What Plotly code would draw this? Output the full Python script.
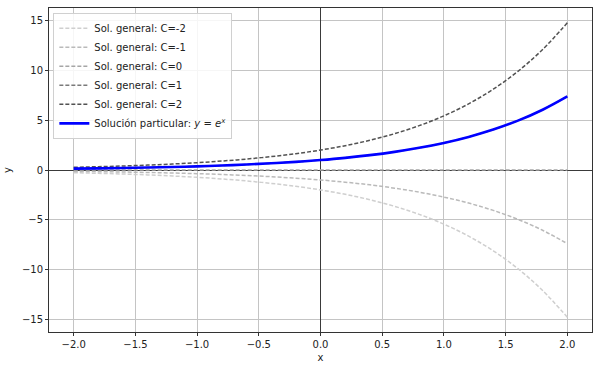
import plotly.graph_objects as go

x_vals = [-2.0, -1.8, -1.6, -1.4, -1.2, -1.0, -0.8, -0.6, -0.4, -0.2, 0.0,
          0.2, 0.4, 0.6, 0.8, 1.0, 1.2, 1.4, 1.6, 1.8, 2.0]

y_c_neg2 = [-0.271, -0.331, -0.404, -0.493, -0.602, -0.736, -0.899, -1.098, -1.341, -1.637, -2.0,
            -2.443, -2.984, -3.644, -4.451, -5.437, -6.640, -8.110, -9.906, -12.099, -14.778]
y_c_neg1 = [-0.135, -0.165, -0.202, -0.247, -0.301, -0.368, -0.449, -0.549, -0.670, -0.819, -1.0,
            -1.221, -1.492, -1.822, -2.226, -2.718, -3.320, -4.055, -4.953, -6.050, -7.389]
y_c_0 = [0.0] * 21
y_c_1 = [0.135, 0.165, 0.202, 0.247, 0.301, 0.368, 0.449, 0.549, 0.670, 0.819, 1.0,
         1.221, 1.492, 1.822, 2.226, 2.718, 3.320, 4.055, 4.953, 6.050, 7.389]
y_c_2 = [0.271, 0.331, 0.404, 0.493, 0.602, 0.736, 0.899, 1.098, 1.341, 1.637, 2.0,
         2.443, 2.984, 3.644, 4.451, 5.437, 6.640, 8.110, 9.906, 12.099, 14.778]
y_particular = [0.135, 0.165, 0.202, 0.247, 0.301, 0.368, 0.449, 0.549, 0.670, 0.819, 1.0,
                1.221, 1.492, 1.822, 2.226, 2.718, 3.320, 4.055, 4.953, 6.050, 7.389]

general_names = ["Sol. general: C=-2", "Sol. general: C=-1", "Sol. general: C=0",
                 "Sol. general: C=1", "Sol. general: C=2"]
general_series = [y_c_neg2, y_c_neg1, y_c_0, y_c_1, y_c_2]
general_colors = ["#cfcfcf", "#bababa", "#a6a6a6", "#7a7a7a", "#525252"]

x_ticks = [-2.0, -1.5, -1.0, -0.5, 0.0, 0.5, 1.0, 1.5, 2.0]
y_ticks = [-15, -10, -5, 0, 5, 10, 15]

fig = go.Figure()
for name, ys, col in zip(general_names, general_series, general_colors):
    fig.add_trace(go.Scatter(x=x_vals, y=ys, mode="lines", name=name,
                             line=dict(color=col, width=1.5, dash="4px,2px", shape="spline")))
fig.add_trace(go.Scatter(x=x_vals, y=y_particular, mode="lines",
                         name="Solución particular: <i>y</i> = <i>e</i><sup><i>x</i></sup>",
                         line=dict(color="#0000ff", width=2.6, shape="spline")))

axis_common = dict(showgrid=True, gridcolor="#c4c4c4", gridwidth=1,
                   zeroline=True, zerolinecolor="#3a3a3a", zerolinewidth=1,
                   showline=True, linecolor="#333333", linewidth=1, mirror=True,
                   ticks="outside", ticklen=3, tickcolor="#333333",
                   tickfont=dict(size=10, color="#222222"))

fig.update_xaxes(range=[-2.2, 2.2], tickvals=x_ticks,
                 ticktext=[f"{v:.1f}".replace("-", "\u2212") for v in x_ticks],
                 title=dict(text="x", font=dict(size=10, color="#222222"), standoff=4),
                 **axis_common)
fig.update_yaxes(range=[-16.26, 16.26], tickvals=y_ticks,
                 ticktext=[str(v).replace("-", "\u2212") for v in y_ticks],
                 title=dict(text="y", font=dict(size=10, color="#222222"), standoff=8),
                 **axis_common)

fig.update_layout(
    width=600, height=369,
    margin=dict(l=48, r=7, t=7, b=37),
    paper_bgcolor="white", plot_bgcolor="white",
    font=dict(family="DejaVu Sans", size=10, color="#222222"),
    showlegend=True,
    legend=dict(x=0.008, y=0.985, xanchor="left", yanchor="top",
                bgcolor="rgba(255,255,255,0.85)", bordercolor="#d0d0d0", borderwidth=1,
                font=dict(size=10, color="#222222"), tracegroupgap=0),
)

fig.write_html("out.html")
